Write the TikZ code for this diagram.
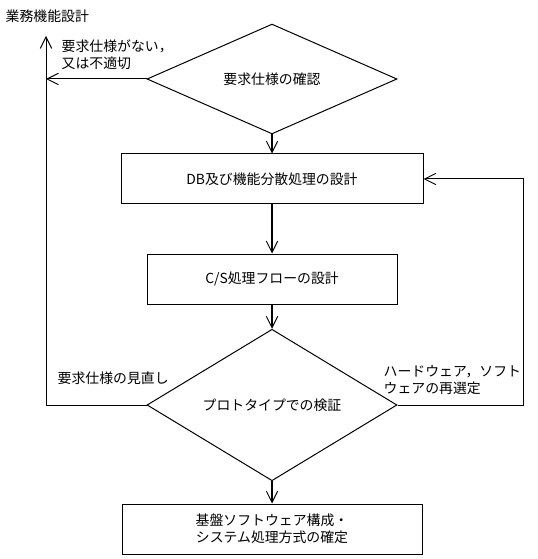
\documentclass[tikz,border=0pt]{standalone}
\usepackage{fontspec}
\setmainfont{Noto Sans CJK JP}
\usepackage{tikz}
\usetikzlibrary{shapes.geometric}
\usetikzlibrary{arrows.meta}

\begin{document}
\begin{tikzpicture}[x=0.75pt, y=-0.75pt,
    font=\fontsize{10.4pt}{12.75pt}\selectfont,
    flowbox/.style={draw, line width=0.75pt, inner sep=0pt, minimum height=37.5pt, align=center},
    checkdia/.style={draw, diamond, line width=0.75pt, inner sep=0pt, minimum width=187.5pt, minimum height=74pt},
    mainarrow/.style={-{Straight Barb[length=8.5pt, width=8.5pt, line width=0.75pt]}, line width=1.5pt},
    backarrow/.style={-{Straight Barb[length=8.5pt, width=8.5pt]}, line width=0.75pt}]
    \useasboundingbox (0,0) rectangle (537,559);

    % --- Flow steps ---
    \node[anchor=west] (title) at (1,16) {業務機能設計};
    \node[checkdia] (spec) at (272,79) {要求仕様の確認};
    \node[flowbox, minimum width=226.5pt] (dbdesign) at (272,179) {DB及び機能分散処理の設計};
    \node[flowbox, minimum width=187.5pt] (csflow) at (272,279) {C/S処理フローの設計};
    \node[checkdia, minimum height=75pt] (proto) at (272,405) {プロトタイプでの検証};
    \node[flowbox, minimum width=225pt] (platform) at (272,529) {基盤ソフトウェア構成・\\システム処理方式の確定};

    % Loop corners
    \coordinate (leftup) at (46,36);
    \coordinate (rightup) at (523,180);

    % Main flow
    \draw[mainarrow] (spec.south) -- (dbdesign.north);
    \draw[mainarrow] (dbdesign.south) -- (csflow.north);
    \draw[mainarrow] (csflow.south) -- (proto.north);
    \draw[mainarrow] (proto.south) -- (platform.north);

    % Feedback lines
    \draw[backarrow] (spec.west) -- (spec.west -| leftup);
    \draw[backarrow] (proto.west) -- (proto.west -| leftup) -- (leftup);
    \draw[backarrow] (proto.east) -- (proto.east -| rightup) -- (dbdesign.east -| rightup) -- (dbdesign.east);

    % Branch labels
    \node[anchor=north west, align=left] (nospec) at (57,35) {要求仕様がない，\\又は不適切};
    \node[anchor=west] (review) at (53,378) {要求仕様の見直し};
    \node[anchor=north west, align=left] (reselect) at (379,361) {ハードウェア，ソフト\\ウェアの再選定};
\end{tikzpicture}
\end{document}
